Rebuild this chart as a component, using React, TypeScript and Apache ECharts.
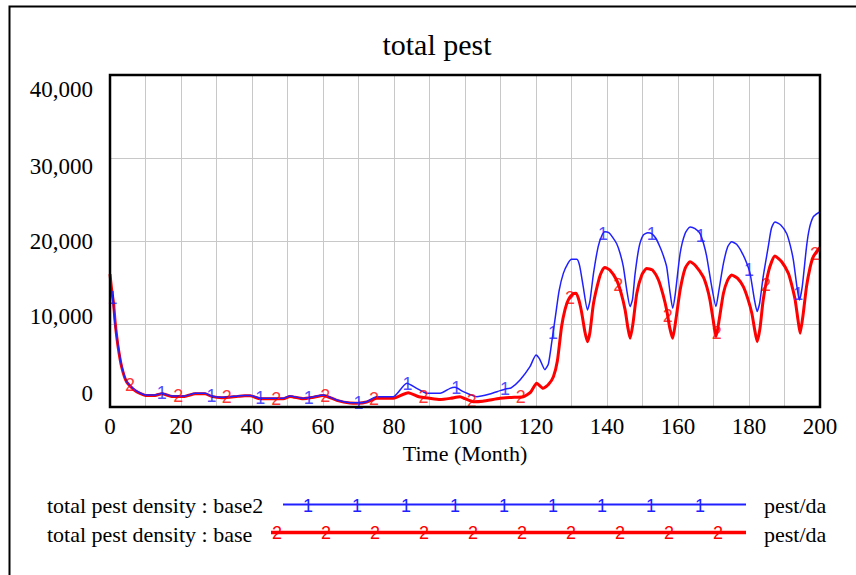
import React, { useEffect, useRef } from "react";
import * as echarts from "echarts";

// ---- data ----
const base2Times = [
  0, 0.5, 0.9, 1.4, 2.3, 3.3, 4.7, 7, 10, 12.7, 14.6, 17.4, 21, 24, 26.8, 28.6, 31.5, 36, 38, 39.5,
  42.3, 46, 48.8, 50.7, 54.4, 57, 60.1, 63.9, 67.6, 70, 72.3, 75.1, 79.8, 83.6, 86.4, 89.2, 93, 95.8,
  97.2, 99.5, 103.3, 107, 109.9, 111.7, 113, 115.5, 118.3, 120, 121, 122.5, 123.5, 124.5, 125.5,
  126.5, 127.7, 129, 130, 131.5, 132.3, 133.3, 134.5,
  135.2, 136.2, 137.5, 138.5, 139.4, 140.5, 141.5, 142.7, 143.7, 144.6, 145.6, 146.5,
  147.2, 147.9, 149, 150.2, 151.5, 152.6, 153.8, 154.9, 155.9, 156.8, 157.7, 158.5,
  159.2, 160.6, 162, 163.4, 164.8, 166.2, 167.2, 168.1, 169.5, 170.7,
  171.5, 172.8, 174, 175.1, 176.5, 177.9, 179.2, 180.3, 181.5, 182.3,
  183, 184, 185.5, 186.3, 187.3, 189, 190.6, 191.6, 192.5, 193.5, 194.2,
  195, 196.2, 197, 198.1, 199.5, 200,
];
const base2Values = [
  14800, 13800, 12500, 10100, 7300, 4900, 3050, 2050, 1450, 1450, 1650, 1330, 1330, 1650, 1650, 1330,
  1170, 1330, 1400, 1400, 1050, 1050, 1050, 1330, 1050, 1200, 1450, 840, 520, 500, 640, 1240, 1240,
  2850, 2250, 1650, 1650, 2250, 2370, 1850, 1240, 1570, 1970, 2200, 2300, 3250, 4860, 6270, 5800,
  4500, 5200, 8000, 11000, 14000, 16100, 17300, 17800, 17800, 17000, 14500, 11700,
  12800, 16100, 19300, 20600, 21100, 21000, 20500, 19700, 18500, 16900, 14000, 12100,
  13000, 16000, 19200, 20700, 21000, 20900, 20300, 19300, 18200, 16900, 14000, 11900,
  13500, 18500, 20900, 21700, 21500, 20900, 19700, 18100, 14500, 12100,
  14000, 17300, 19300, 19900, 19600, 18700, 17500, 16100, 13000, 11500,
  12500, 15700, 19500, 21500, 22300, 21900, 20900, 19500, 17700, 14500, 12900,
  14500, 19300, 21500, 22900, 23400, 23500,
];

const baseTimes = [
  0, 0.5, 1, 1.5, 2.3, 3.3, 4.7, 7, 10, 12.7, 14.6, 17.4, 21, 24, 26.8, 28.6, 31.5, 36, 38, 39.5,
  42.3, 46, 48.8, 50.7, 54.4, 57, 60.1, 63.9, 67.6, 70, 72.3, 75.1, 79.8, 84, 87, 90, 93, 96, 98.6,
  100, 102.3, 105, 109.9, 113, 116.4, 118.5, 120.2, 122, 123.5, 124.9,
  126, 127.2, 128.2, 129.1, 130.3, 131.3, 132.2, 132.9, 133.8, 134.5,
  135.2, 136.2, 137.8, 138.6, 139.4, 140.8, 142.7, 144, 145.1, 145.9, 146.5,
  147.3, 148.4, 149.8, 151.2, 152.8, 154.5, 155.8, 156.8, 157.7, 158.5,
  159.4, 160.6, 162, 163.4, 165, 167.1, 168.1, 169, 169.9, 170.7,
  171.6, 172.8, 174, 175.1, 176.8, 178.4, 179.7, 180.8, 181.6, 182.3,
  183.1, 184, 185.6, 187.3, 189.2, 191.1, 192.1, 193, 193.8, 194.4,
  195.2, 196.2, 197.2, 198.1, 199.5, 200,
];
const baseValues = [
  16000, 14000, 12500, 10000, 7200, 4800, 3000, 2000, 1400, 1400, 1600, 1280, 1280, 1600, 1600, 1280,
  1120, 1280, 1350, 1350, 1000, 1000, 1000, 1280, 1000, 1150, 1400, 800, 480, 460, 600, 1050, 1050,
  1720, 1240, 1050, 900, 1050, 1240, 1000, 640, 700, 1050, 1150, 1240, 1800, 2850, 2250, 2700, 3650,
  5500, 9680, 11800, 12900, 13600, 13700, 12700, 11300, 9000, 7870,
  9000, 12500, 15500, 16400, 16800, 16500, 15300, 13700, 11700, 9500, 8280,
  10000, 13700, 15900, 16700, 16500, 15300, 13500, 11700, 9500, 8280,
  10500, 14100, 16700, 17500, 17000, 15700, 14500, 12900, 10500, 8470,
  10500, 13700, 15300, 15900, 15500, 14500, 13000, 11300, 9300, 7870,
  9500, 12900, 16500, 18200, 17500, 16100, 14600, 12900, 10500, 8880,
  11000, 14500, 16800, 18100, 19000, 19200,
];

// times at which the series' number markers sit
const base2MarkerTimes = [0.7, 14.6, 28.6, 42.3, 56, 70, 83.8, 97.5, 111.3, 124.8, 138.9, 152.6, 166.4, 180, 193.9];
const baseMarkerTimes = [5.6, 19.2, 32.9, 46.8, 60.6, 74.4, 88.3, 101.9, 115.7, 129.6, 143.2, 157.1, 170.9, 184.8, 198.6];

const yTicks = [0, 10000, 20000, 30000, 40000];
const seriesNames = ["total pest density : base2", "total pest density : base"];
const unitLabel = "pest/da";
const titleText = "total pest";
const xAxisTitle = "Time (Month)";

const BLUE = "#2020ff";
const RED = "#ff0000";
const SERIF = '"Liberation Serif", "Times New Roman", serif';
const SANS = '"Liberation Sans", Arial, sans-serif';

function interp(ts: number[], vs: number[], t: number): number {
  if (t <= ts[0]) return vs[0];
  for (let i = 1; i < ts.length; i++) {
    if (t <= ts[i]) {
      const f = (t - ts[i - 1]) / (ts[i] - ts[i - 1]);
      return vs[i - 1] + f * (vs[i] - vs[i - 1]);
    }
  }
  return vs[vs.length - 1];
}

function fmt(v: number): string {
  return v.toLocaleString("en-US");
}

export default function App() {
  const ref = useRef<HTMLDivElement>(null);

  useEffect(() => {
    document.body.style.margin = "0";
    if (!ref.current) return;
    const chart = echarts.init(ref.current, undefined, { renderer: "svg" });

    const yLabelRich: any = {
      s4: { fontSize: 23, fontFamily: SERIF, color: "#000", padding: [29, 0, 0, 0] },
      s3: { fontSize: 23, fontFamily: SERIF, color: "#000", padding: [16, 0, 0, 0] },
      s2: { fontSize: 23, fontFamily: SERIF, color: "#000" },
      s1: { fontSize: 23, fontFamily: SERIF, color: "#000", padding: [0, 0, 16, 0] },
      s0: { fontSize: 23, fontFamily: SERIF, color: "#000", padding: [0, 0, 28, 0] },
    };

    const legendOnes = [308, 357, 406, 455, 504, 553, 602, 651, 700];
    const legendTwos = [277, 326, 375, 424, 473, 522, 571, 620, 669, 718];

    const graphic: any[] = [
      {
        type: "rect",
        shape: { x: 9.5, y: 6.5, width: 1000, height: 800 },
        style: { fill: "none", stroke: "#000", lineWidth: 2 },
        silent: true,
      },
      {
        type: "text",
        style: { text: titleText, x: 437, y: 44, fontSize: 30, fontFamily: SERIF, fill: "#000", align: "center", verticalAlign: "middle" },
      },
      {
        type: "text",
        style: { text: seriesNames[0], x: 47, y: 505.5, fontSize: 22, fontFamily: SERIF, fill: "#000", align: "left", verticalAlign: "middle" },
      },
      {
        type: "text",
        style: { text: seriesNames[1], x: 47, y: 534, fontSize: 22, fontFamily: SERIF, fill: "#000", align: "left", verticalAlign: "middle" },
      },
      {
        type: "line",
        shape: { x1: 283, y1: 504.5, x2: 746, y2: 504.5 },
        style: { stroke: BLUE, lineWidth: 2 },
      },
      {
        type: "line",
        shape: { x1: 271, y1: 532.5, x2: 746, y2: 532.5 },
        style: { stroke: RED, lineWidth: 3.5 },
      },
      {
        type: "text",
        style: { text: unitLabel, x: 764, y: 505.5, fontSize: 22, fontFamily: SERIF, fill: "#000", align: "left", verticalAlign: "middle" },
      },
      {
        type: "text",
        style: { text: unitLabel, x: 764, y: 534, fontSize: 22, fontFamily: SERIF, fill: "#000", align: "left", verticalAlign: "middle" },
      },
      ...legendOnes.map((x) => ({
        type: "text",
        style: { text: "1", x, y: 505.5, fontSize: 18, fontFamily: SANS, fill: BLUE, align: "center", verticalAlign: "middle" },
      })),
      ...legendTwos.map((x) => ({
        type: "text",
        style: { text: "2", x, y: 533, fontSize: 18, fontFamily: SANS, fill: RED, align: "center", verticalAlign: "middle" },
      })),
    ];

    const option: any = {
      animation: false,
      backgroundColor: "#fff",
      grid: {
        left: 110,
        right: 36,
        top: 75,
        bottom: 168,
        show: true,
        borderColor: "#000",
        borderWidth: 2.5,
        backgroundColor: "transparent",
        z: 10,
      },
      xAxis: {
        type: "value",
        min: 0,
        max: 200,
        interval: 10,
        name: xAxisTitle,
        nameLocation: "middle",
        nameGap: 30,
        nameTextStyle: { fontSize: 22, fontFamily: SERIF, color: "#000" },
        axisLine: { show: false },
        axisTick: { show: false },
        axisLabel: {
          margin: 8,
          fontSize: 23,
          fontFamily: SERIF,
          color: "#000",
          formatter: (v: number) => (v % 20 === 0 ? String(v) : ""),
        },
        splitLine: { show: true, showMinLine: false, showMaxLine: false, lineStyle: { color: "#c8c8c8", width: 1 } },
      },
      yAxis: {
        type: "value",
        min: yTicks[0],
        max: yTicks[yTicks.length - 1],
        interval: 10000,
        axisLine: { show: false },
        axisTick: { show: false },
        axisLabel: {
          margin: 17,
          fontSize: 23,
          fontFamily: SERIF,
          color: "#000",
          formatter: (v: number) => `{s${Math.round(v / 10000)}|${fmt(v)}}`,
          rich: yLabelRich,
        },
        splitLine: { show: true, showMinLine: false, showMaxLine: false, lineStyle: { color: "#c8c8c8", width: 1 } },
      },
      series: [
        {
          name: seriesNames[0],
          type: "line",
          data: base2Times.map((t, i) => [t, base2Values[i]]),
          showSymbol: false,
          symbol: "none",
          smooth: 0.2,
          lineStyle: { color: BLUE, width: 1.5 },
          z: 3,
        },
        {
          name: seriesNames[1],
          type: "line",
          data: baseTimes.map((t, i) => [t, baseValues[i]]),
          showSymbol: false,
          symbol: "none",
          smooth: 0.2,
          lineStyle: { color: RED, width: 3 },
          z: 2,
        },
        {
          type: "scatter",
          data: base2MarkerTimes.map((t) => [t, interp(base2Times, base2Values, t)]),
          symbolSize: 1,
          itemStyle: { color: "rgba(0,0,0,0)" },
          label: { show: true, position: "inside", formatter: "1", color: BLUE, fontSize: 18, fontFamily: SANS },
          silent: true,
          z: 5,
        },
        {
          type: "scatter",
          data: baseMarkerTimes.map((t) => [t, interp(baseTimes, baseValues, t)]),
          symbolSize: 1,
          itemStyle: { color: "rgba(0,0,0,0)" },
          label: { show: true, position: "inside", formatter: "2", color: RED, fontSize: 18, fontFamily: SANS },
          silent: true,
          z: 5,
        },
      ],
      graphic,
    };

    chart.setOption(option);
    return () => chart.dispose();
  }, []);

  return <div ref={ref} style={{ width: 856, height: 575 }} />;
}
